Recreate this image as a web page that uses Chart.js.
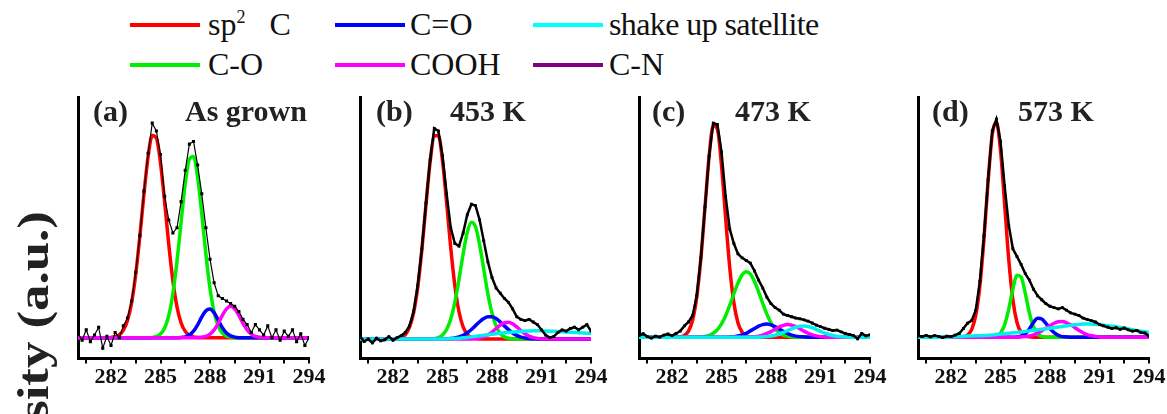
<!DOCTYPE html>
<html lang="en">
<head>
  <meta charset="UTF-8" />
  <title>C 1s spectra</title>
  <style>
    body {
      margin: 0;
      width: 1167px;
      height: 414px;
      position: relative;
      overflow: hidden;
      background: #fff;
      font-family: 'Liberation Serif', 'Times New Roman', serif;
      color: #111;
    }
    canvas { position: absolute; top: 90px; }
    .leg-line { position: absolute; height: 4px; width: 70px; }
    .leg-text {
      position: absolute;
      font-size: 32px;
      line-height: 32px;
      white-space: nowrap;
    }
    .leg-text .sup { font-size: 18px; position: relative; top: -12px; }
    .ptitle {
      position: absolute;
      top: 96px;
      font-weight: bold;
      font-size: 30px;
      line-height: 30px;
      white-space: nowrap;
      color: #222;
    }
    .ylab {
      position: absolute;
      left: 34px;
      top: 316px;
      transform: translate(-50%, -50%) rotate(-90deg) scaleX(1.2);
      font-weight: bold;
      font-size: 44px;
      line-height: 44px;
      white-space: nowrap;
      color: #222;
    }
  </style>
</head>
<body>
  <!-- legend -->
  <div class="leg-line" style="left:130px;top:23px;background:#ff0000"></div>
  <div class="leg-text" style="left:208px;top:8px">sp<span class="sup">2</span>&nbsp;&nbsp; C</div>
  <div class="leg-line" style="left:335px;top:23px;background:#0000ff"></div>
  <div class="leg-text" style="left:410px;top:8px">C=O</div>
  <div class="leg-line" style="left:533px;top:23px;background:#00ffff"></div>
  <div class="leg-text" style="left:609px;top:8px;letter-spacing:-0.6px">shake up satellite</div>
  <div class="leg-line" style="left:130px;top:63px;background:#00ee00"></div>
  <div class="leg-text" style="left:208px;top:48px">C-O</div>
  <div class="leg-line" style="left:335px;top:63px;background:#ff00ff"></div>
  <div class="leg-text" style="left:410px;top:48px">COOH</div>
  <div class="leg-line" style="left:533px;top:63px;background:#800080"></div>
  <div class="leg-text" style="left:609px;top:48px">C-N</div>

  <div class="ylab">sity (a.u.)</div>

  <canvas id="pa" width="263" height="305" style="left:68px"></canvas>
  <canvas id="pb" width="263" height="305" style="left:350px"></canvas>
  <canvas id="pc" width="263" height="305" style="left:629px"></canvas>
  <canvas id="pd" width="263" height="305" style="left:908px"></canvas>

  <div class="ptitle" style="left:93px">(a)</div>
  <div class="ptitle" style="left:185px">As grown</div>
  <div class="ptitle" style="left:376px">(b)</div>
  <div class="ptitle" style="left:450px">453 K</div>
  <div class="ptitle" style="left:652px">(c)</div>
  <div class="ptitle" style="left:735px">473 K</div>
  <div class="ptitle" style="left:932px">(d)</div>
  <div class="ptitle" style="left:1018px">573 K</div>

  <script src="https://cdn.jsdelivr.net/npm/chart.js"></script>
  <script>
    // binding energy grid (eV), shared by every curve
    const energy = [
      280, 280.25, 280.5, 280.75, 281, 281.25, 281.5, 281.75,
      282, 282.25, 282.5, 282.75, 283, 283.25, 283.5, 283.75,
      284, 284.25, 284.5, 284.75, 285, 285.25, 285.5, 285.75,
      286, 286.25, 286.5, 286.75, 287, 287.25, 287.5, 287.75,
      288, 288.25, 288.5, 288.75, 289, 289.25, 289.5, 289.75,
      290, 290.25, 290.5, 290.75, 291, 291.25, 291.5, 291.75,
      292, 292.25, 292.5, 292.75, 293, 293.25, 293.5, 293.75,
      294
    ];
    const tickPos = [280.5, 282, 283.5, 285, 286.5, 288, 289.5, 291, 292.5, 294];
    const tickLabels = [282, 285, 288, 291, 294];

    // (a) as grown
    const aData = [
      9.5, 7, 11, 6.5, 9, 12, 4, 8.5,
      5, 10, 8, 12.5, 15.5, 22, 33, 47,
      64, 78.5, 90, 87, 78, 62, 53, 48,
      50, 60, 72, 82, 83, 74, 63, 50,
      38, 29, 24, 23, 22, 21, 20, 18,
      15, 13, 10, 13, 11, 9, 12.5, 8,
      11, 7, 10.5, 8.5, 11, 6.5, 9.5, 5,
      8
    ];
    const aRed = [
      8, 8, 8, 8, 8, 8, 8, 8,
      8.1, 8.4, 9.1, 10.9, 14.6, 21.4, 32.3, 46.9,
      63.1, 77.3, 85.3, 84.3, 74.8, 59.9, 43.7, 29.8,
      19.8, 13.6, 10.4, 8.9, 8.3, 8.1, 8, 8,
      8, 8, 8, 8, 8, 8, 8, 8,
      8, 8, 8, 8, 8, 8, 8, 8,
      8, 8, 8, 8, 8, 8, 8, 8,
      8
    ];
    const aGreen = [
      8, 8, 8, 8, 8, 8, 8, 8,
      8, 8, 8, 8, 8, 8, 8, 8,
      8, 8, 8.1, 8.5, 9.4, 11.7, 16.4, 24.8,
      37.2, 52.3, 66.9, 76.3, 77.3, 69.3, 55.4, 40.0,
      26.9, 17.8, 12.4, 9.7, 8.6, 8.2, 8, 8,
      8, 8, 8, 8, 8, 8, 8, 8,
      8, 8, 8, 8, 8, 8, 8, 8,
      8
    ];
    const aBlue = [
      8, 8, 8, 8, 8, 8, 8, 8,
      8, 8, 8, 8, 8, 8, 8, 8,
      8, 8, 8, 8, 8, 8, 8, 8,
      8, 8.1, 8.3, 9.0, 10.5, 12.9, 15.9, 18.3,
      19.0, 17.5, 14.7, 11.8, 9.8, 8.7, 8.2, 8,
      8, 8, 8, 8, 8, 8, 8, 8,
      8, 8, 8, 8, 8, 8, 8, 8,
      8
    ];
    const aMag = [
      8, 8, 8, 8, 8, 8, 8, 8,
      8, 8, 8, 8, 8, 8, 8, 8,
      8, 8, 8, 8, 8, 8, 8, 8,
      8, 8, 8, 8, 8, 8, 8.2, 8.5,
      9.4, 11.0, 13.5, 16.5, 19.0, 20, 19.0, 16.5,
      13.5, 11.0, 9.4, 8.5, 8.2, 8, 8, 8,
      8, 8, 8, 8, 8, 8, 8, 8,
      8
    ];

    // (b) 453 K
    const bData = [
      8.5, 6.5, 7.5, 6, 7.8, 6.8, 7.2, 8.4,
      7, 8, 8.8, 10, 12.5, 18, 28, 42,
      59.5, 76, 88, 87, 77.5, 63, 50, 44,
      43, 48, 55, 59, 58.5, 53, 45, 37,
      31, 27, 25, 23, 21.5, 19, 16, 15,
      14.5, 15, 14, 13, 11, 9, 8, 8.5,
      10, 11, 10.5, 11.5, 12, 11, 12, 13,
      10.5
    ];
    const bRed = [
      7.5, 7.5, 7.5, 7.5, 7.5, 7.5, 7.5, 7.5,
      7.5, 7.7, 8.1, 9.2, 12.0, 17.6, 27.4, 41.7,
      58.9, 75.1, 85.1, 85.3, 75.6, 59.6, 42.3, 27.8,
      17.9, 12.1, 9.3, 8.1, 7.7, 7.5, 7.5, 7.5,
      7.5, 7.5, 7.5, 7.5, 7.5, 7.5, 7.5, 7.5,
      7.5, 7.5, 7.5, 7.5, 7.5, 7.5, 7.5, 7.5,
      7.5, 7.5, 7.5, 7.5, 7.5, 7.5, 7.5, 7.5,
      7.5
    ];
    const bGreen = [
      7.5, 7.5, 7.5, 7.5, 7.5, 7.5, 7.5, 7.5,
      7.5, 7.5, 7.5, 7.5, 7.5, 7.5, 7.5, 7.5,
      7.5, 7.5, 7.6, 8.0, 9.0, 11.1, 15.1, 21.5,
      30.3, 40.0, 48.2, 52.1, 50.4, 43.6, 34.2, 24.8,
      17.4, 12.4, 9.6, 8.3, 7.8, 7.6, 7.5, 7.5,
      7.5, 7.5, 7.5, 7.5, 7.5, 7.5, 7.5, 7.5,
      7.5, 7.5, 7.5, 7.5, 7.5, 7.5, 7.5, 7.5,
      7.5
    ];
    const bBlue = [
      7.5, 7.5, 7.5, 7.5, 7.5, 7.5, 7.5, 7.5,
      7.5, 7.5, 7.5, 7.5, 7.5, 7.5, 7.5, 7.5,
      7.5, 7.5, 7.5, 7.5, 7.5, 7.6, 7.7, 7.9,
      8.3, 8.9, 9.8, 11.1, 12.6, 14.1, 15.3, 16.0,
      16.0, 15.3, 14.0, 12.5, 11.1, 9.8, 8.9, 8.2,
      7.9, 7.7, 7.6, 7.5, 7.5, 7.5, 7.5, 7.5,
      7.5, 7.5, 7.5, 7.5, 7.5, 7.5, 7.5, 7.5,
      7.5
    ];
    const bMag = [
      7.5, 7.5, 7.5, 7.5, 7.5, 7.5, 7.5, 7.5,
      7.5, 7.5, 7.5, 7.5, 7.5, 7.5, 7.5, 7.5,
      7.5, 7.5, 7.5, 7.5, 7.5, 7.5, 7.5, 7.5,
      7.5, 7.5, 7.5, 7.5, 7.6, 7.9, 8.3, 9.0,
      10.1, 11.5, 12.8, 13.7, 13.9, 13.3, 12.1, 10.7,
      9.5, 8.6, 8.0, 7.7, 7.5, 7.5, 7.5, 7.5,
      7.5, 7.5, 7.5, 7.5, 7.5, 7.5, 7.5, 7.5,
      7.5
    ];
    const bCyan = [
      7.5, 7.5, 7.5, 7.5, 7.5, 7.5, 7.5, 7.5,
      7.5, 7.5, 7.5, 7.5, 7.5, 7.5, 7.5, 7.5,
      7.5, 7.5, 7.5, 7.5, 7.5, 7.5, 7.6, 7.7,
      7.8, 7.95, 8.1, 8.3, 8.5, 8.7, 8.9, 9.1,
      9.3, 9.5, 9.7, 9.85, 10.0, 10.15, 10.3, 10.4,
      10.5, 10.55, 10.6, 10.6, 10.6, 10.55, 10.5, 10.45,
      10.4, 10.3, 10.2, 10.1, 10.0, 9.9, 9.8, 9.7,
      9.6
    ];

    // (c) 473 K
    const cData = [
      8.8, 9.5, 8.4, 7.8, 8.6, 8.2, 9.0, 9.4,
      8.8, 9.6, 10.5, 12.5, 14, 16.5, 24, 38.5,
      58, 77.5, 90, 89.5, 79, 62, 49.5, 44,
      40, 38.5, 37.5, 36.5, 33.5, 30, 27, 23.5,
      21, 19.5, 18.5, 17, 16.5, 16, 15.5, 15.2,
      14.8, 14.3, 13.6, 12.8, 12.2, 11.6, 11.2, 10.7,
      10.9, 10.2, 9.6, 9.2, 8.8, 7.6, 9.6, 8.7,
      9.1
    ];
    const cRed = [
      8.2, 8.2, 8.2, 8.2, 8.2, 8.2, 8.2, 8.2,
      8.2, 8.2, 8.3, 8.9, 10.5, 14.7, 23.5, 38.3,
      57.9, 77.4, 89.1, 87.7, 73.9, 53.8, 34.8, 21.3,
      13.6, 10.1, 8.7, 8.3, 8.2, 8.2, 8.2, 8.2,
      8.2, 8.2, 8.2, 8.2, 8.2, 8.2, 8.2, 8.2,
      8.2, 8.2, 8.2, 8.2, 8.2, 8.2, 8.2, 8.2,
      8.2, 8.2, 8.2, 8.2, 8.2, 8.2, 8.2, 8.2,
      8.2
    ];
    const cGreen = [
      8.2, 8.2, 8.2, 8.2, 8.2, 8.2, 8.2, 8.2,
      8.2, 8.2, 8.2, 8.2, 8.2, 8.2, 8.2, 8.3,
      8.5, 8.9, 9.7, 11.1, 13.3, 16.4, 20.4, 24.8,
      28.9, 32.0, 33.2, 32.3, 29.5, 25.5, 21.1, 17.0,
      13.7, 11.4, 9.9, 9.0, 8.6, 8.3, 8.2, 8.2,
      8.2, 8.2, 8.2, 8.2, 8.2, 8.2, 8.2, 8.2,
      8.2, 8.2, 8.2, 8.2, 8.2, 8.2, 8.2, 8.2,
      8.2
    ];
    const cBlue = [
      8.2, 8.2, 8.2, 8.2, 8.2, 8.2, 8.2, 8.2,
      8.2, 8.2, 8.2, 8.2, 8.2, 8.2, 8.2, 8.2,
      8.2, 8.2, 8.2, 8.2, 8.2, 8.2, 8.3, 8.4,
      8.7, 9.1, 9.7, 10.6, 11.5, 12.4, 13.0, 13.2,
      12.9, 12.2, 11.3, 10.4, 9.6, 9.0, 8.6, 8.4,
      8.3, 8.2, 8.2, 8.2, 8.2, 8.2, 8.2, 8.2,
      8.2, 8.2, 8.2, 8.2, 8.2, 8.2, 8.2, 8.2,
      8.2
    ];
    const cMag = [
      8.2, 8.2, 8.2, 8.2, 8.2, 8.2, 8.2, 8.2,
      8.2, 8.2, 8.2, 8.2, 8.2, 8.2, 8.2, 8.2,
      8.2, 8.2, 8.2, 8.2, 8.2, 8.2, 8.2, 8.2,
      8.2, 8.2, 8.2, 8.3, 8.4, 8.6, 9.0, 9.6,
      10.3, 11.2, 12.1, 12.7, 13.0, 12.8, 12.2, 11.4,
      10.5, 9.7, 9.1, 8.7, 8.4, 8.3, 8.2, 8.2,
      8.2, 8.2, 8.2, 8.2, 8.2, 8.2, 8.2, 8.2,
      8.2
    ];
    const cCyan = [
      8.2, 8.2, 8.2, 8.2, 8.2, 8.2, 8.2, 8.2,
      8.2, 8.2, 8.2, 8.2, 8.2, 8.2, 8.2, 8.2,
      8.2, 8.2, 8.2, 8.2, 8.2, 8.2, 8.2, 8.2,
      8.2, 8.2, 8.2, 8.2, 8.2, 8.2, 8.3, 8.4,
      8.6, 8.9, 9.4, 10.0, 10.7, 11.4, 12.0, 12.4,
      12.5, 12.3, 11.8, 11.1, 10.4, 9.7, 9.2, 8.8,
      8.5, 8.4, 8.3, 8.2, 8.2, 8.2, 8.2, 8.2,
      8.2
    ];

    // (d) 573 K
    const dData = [
      8.7, 8.4, 8.9, 8.3, 8.8, 8.5, 8.0, 8.6,
      8.4, 9.0, 9.6, 11.5, 13.5, 14.5, 18.5, 29.5,
      47, 68.5, 87, 91.5, 83, 66, 51, 42,
      39, 36, 32.5, 30, 26.5, 24, 22.5, 21,
      20, 19.5, 19, 19.5, 18.5, 17.5, 17, 16.5,
      15.5, 15, 14.5, 14, 13, 12.5, 12, 11.5,
      11.8, 11.2, 11.7, 11, 10.5, 10.8, 10, 9.8,
      8.6
    ];
    const dRed = [
      8.2, 8.2, 8.2, 8.2, 8.2, 8.2, 8.2, 8.2,
      8.2, 8.2, 8.2, 8.3, 9.0, 11.1, 16.5, 27.8,
      46.0, 67.9, 85.6, 90.4, 79.7, 59.1, 37.9, 22.4,
      13.8, 10.0, 8.7, 8.3, 8.2, 8.2, 8.2, 8.2,
      8.2, 8.2, 8.2, 8.2, 8.2, 8.2, 8.2, 8.2,
      8.2, 8.2, 8.2, 8.2, 8.2, 8.2, 8.2, 8.2,
      8.2, 8.2, 8.2, 8.2, 8.2, 8.2, 8.2, 8.2,
      8.2
    ];
    const dGreen = [
      8.2, 8.2, 8.2, 8.2, 8.2, 8.2, 8.2, 8.2,
      8.2, 8.2, 8.2, 8.2, 8.2, 8.2, 8.2, 8.2,
      8.2, 8.2, 8.3, 8.6, 9.8, 12.9, 18.9, 26.5,
      31.9, 31.2, 25.0, 17.5, 12.1, 9.4, 8.5, 8.2,
      8.2, 8.2, 8.2, 8.2, 8.2, 8.2, 8.2, 8.2,
      8.2, 8.2, 8.2, 8.2, 8.2, 8.2, 8.2, 8.2,
      8.2, 8.2, 8.2, 8.2, 8.2, 8.2, 8.2, 8.2,
      8.2
    ];
    const dBlue = [
      8.2, 8.2, 8.2, 8.2, 8.2, 8.2, 8.2, 8.2,
      8.2, 8.2, 8.2, 8.2, 8.2, 8.2, 8.2, 8.2,
      8.2, 8.2, 8.2, 8.2, 8.2, 8.2, 8.2, 8.2,
      8.3, 8.55, 9.4, 11.3, 13.8, 15.4, 15.1, 13.5,
      11.5, 9.9, 8.9, 8.4, 8.3, 8.2, 8.2, 8.2,
      8.2, 8.2, 8.2, 8.2, 8.2, 8.2, 8.2, 8.2,
      8.2, 8.2, 8.2, 8.2, 8.2, 8.2, 8.2, 8.2,
      8.2
    ];
    const dMag = [
      8.2, 8.2, 8.2, 8.2, 8.2, 8.2, 8.2, 8.2,
      8.2, 8.2, 8.2, 8.2, 8.2, 8.2, 8.2, 8.2,
      8.2, 8.2, 8.2, 8.2, 8.2, 8.2, 8.2, 8.2,
      8.2, 8.3, 8.4, 8.7, 9.1, 9.7, 10.6, 11.6,
      12.6, 13.5, 14.1, 14.2, 13.7, 12.9, 11.9, 10.8,
      9.9, 9.2, 8.8, 8.5, 8.3, 8.2, 8.2, 8.2,
      8.2, 8.2, 8.2, 8.2, 8.2, 8.2, 8.2, 8.2,
      8.2
    ];
    const dCyan = [
      8.2, 8.2, 8.2, 8.2, 8.2, 8.2, 8.25, 8.25,
      8.3, 8.35, 8.4, 8.5, 8.6, 8.65, 8.7, 8.75,
      8.8, 8.9, 9.0, 9.2, 9.4, 9.55, 9.7, 9.85,
      10.0, 10.2, 10.4, 10.6, 10.8, 11.0, 11.2, 11.4,
      11.6, 11.8, 12.05, 12.3, 12.5, 12.7, 12.9, 13.05,
      13.2, 13.2, 13.2, 13.1, 13.0, 12.8, 12.6, 12.4,
      12.2, 11.9, 11.6, 11.3, 11.0, 10.75, 10.5, 10.25,
      10.0
    ];

    const RED = '#ff0000', GREEN = '#00ee00', BLUE = '#0000ff';
    const MAGENTA = '#ff00ff', CYAN = '#00f0f0';

    function xy(vals) {
      return energy.map((e, i) => ({ x: e, y: vals[i] }));
    }

    // first dataset is painted last, so the measured points sit on top
    function drawPanel(canvasId, measured, fits, dataWidth, dotSize) {
      const datasets = [{
        data: xy(measured),
        borderColor: '#000',
        borderWidth: dataWidth,
        pointStyle: 'rect',
        pointRadius: dotSize,
        pointBackgroundColor: '#000',
        pointBorderWidth: 0,
        tension: 0
      }];
      fits.forEach(f => {
        datasets.push({
          data: xy(f[0]),
          borderColor: f[1],
          borderWidth: 3.5,
          pointRadius: 0,
          cubicInterpolationMode: 'monotone'
        });
      });

      new Chart(document.getElementById(canvasId), {
        type: 'line',
        data: { datasets: datasets },
        options: {
          responsive: false,
          animation: false,
          devicePixelRatio: 1,
          layout: { padding: { left: 10, top: 7, right: 22, bottom: 3 } },
          plugins: { legend: { display: false }, tooltip: { enabled: false } },
          scales: {
            x: {
              type: 'linear',
              min: 280,
              max: 294,
              afterBuildTicks: scale => {
                scale.ticks = tickPos.map(v => ({ value: v }));
              },
              ticks: {
                autoSkip: false,
                maxRotation: 0,
                padding: 1,
                color: '#111',
                font: { family: 'Liberation Serif', size: 22, weight: 'bold' },
                callback: v => tickLabels.includes(v) ? String(v) : ''
              },
              grid: {
                display: true,
                drawOnChartArea: false,
                drawTicks: true,
                tickLength: 5,
                lineWidth: 2,
                color: '#000'
              },
              border: { display: true, width: 3, color: '#000' }
            },
            y: {
              min: 0,
              max: 100,
              ticks: { display: false },
              grid: { display: false, drawTicks: false },
              border: { display: true, width: 3, color: '#000' }
            }
          }
        }
      });
    }

    drawPanel('pa', aData, [[aMag, MAGENTA], [aBlue, BLUE], [aGreen, GREEN], [aRed, RED]], 1.2, 2.2);
    drawPanel('pb', bData, [[bCyan, CYAN], [bMag, MAGENTA], [bBlue, BLUE], [bGreen, GREEN], [bRed, RED]], 2.5, 2);
    drawPanel('pc', cData, [[cCyan, CYAN], [cMag, MAGENTA], [cBlue, BLUE], [cGreen, GREEN], [cRed, RED]], 2.5, 2);
    drawPanel('pd', dData, [[dCyan, CYAN], [dMag, MAGENTA], [dBlue, BLUE], [dGreen, GREEN], [dRed, RED]], 2.5, 2);
  </script>
</body>
</html>
